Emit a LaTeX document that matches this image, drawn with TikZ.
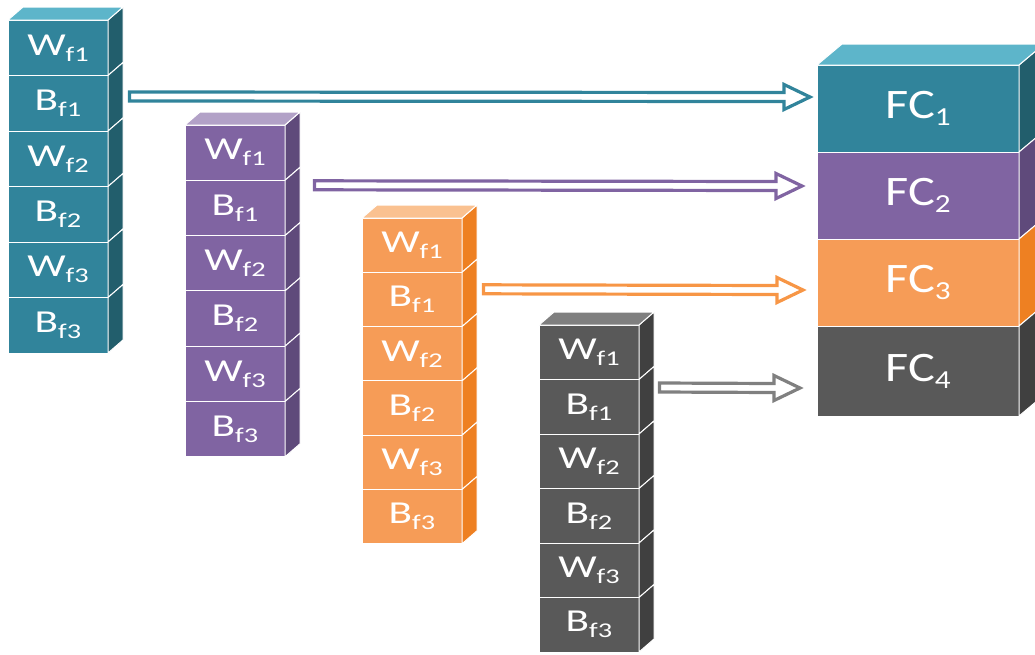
\documentclass[tikz,border=0pt]{standalone}
\usepackage{fontspec}
\setmainfont{Carlito}
\usetikzlibrary{calc}
\definecolor{tealF}{HTML}{31849B}
\definecolor{tealS}{HTML}{225E6C}
\definecolor{tealT}{HTML}{5DB5CA}
\definecolor{purF}{HTML}{8064A2}
\definecolor{purS}{HTML}{5F4A7B}
\definecolor{purT}{HTML}{B2A1C7}
\definecolor{oraF}{HTML}{F69C57}
\definecolor{oraS}{HTML}{EE8022}
\definecolor{oraT}{HTML}{FAC190}
\definecolor{oraA}{HTML}{F79646}
\definecolor{grF}{HTML}{595959}
\definecolor{grS}{HTML}{404040}
\definecolor{grT}{HTML}{7F7F7F}
\definecolor{grA}{HTML}{808080}
\newcommand\lab[2]{\scalebox{1.35}[1]{{\fontsize{32}{32}\selectfont #1}{\fontsize{21}{21}\selectfont\raisebox{-6pt}{#2}}}}
\newcommand\fclab[1]{\scalebox{1.2}[1]{{\fontsize{42}{42}\selectfont FC}{\fontsize{26}{26}\selectfont\raisebox{-7pt}{#1}}}}
\tikzset{
  cell/.style={draw=white, line width=1pt, inner sep=0pt, outer sep=0pt, minimum width=100pt, text=white},
  fccell/.style={draw=white, line width=1pt, inner sep=0pt, outer sep=0pt, minimum width=202pt, minimum height=87pt, text=white, anchor=north west},
  sideface/.style={draw=white, line width=1pt},
  harrow/.style={line width=3.2pt, line join=miter}
}
\newcommand\drawstack[7]{%
  \foreach \i/\l/\s in {1/W/f1,2/B/f1,3/W/f2,4/B/f2,5/W/f3,6/B/f3}{
    \node[cell, fill=#5, minimum height=#4pt, anchor=north west] (#1\i) at (#2, {#3+(\i-1)*#4}) {\lab{\l}{\s}};
    \filldraw[sideface, fill=#6] (#1\i.north east) -- ++(15,-13) -- ++(0,#4) -- (#1\i.south east) -- cycle;
  }
  \filldraw[sideface, fill=#7] (#11.north west) -- ++(15,-13) -- ++(100,0) -- (#11.north east) -- cycle;
}
\newcommand\hollowarrow[3]{%
  \draw[harrow, #1] ($(#2)+(0,-4.5)$) -- ($(#3)+(-26,-4.5)$) -- ($(#3)+(-26,-12.5)$) -- (#3)
    -- ($(#3)+(-26,12.5)$) -- ($(#3)+(-26,4.5)$) -- ($(#2)+(0,4.5)$) -- cycle;
}
\begin{document}
\begin{tikzpicture}[x=1pt, y=-1pt]
\useasboundingbox (0,0) rectangle (1035,654);
\clip (0,0) rectangle (1035,654);
% stacks
\drawstack{t}{8}{20}{55.5}{tealF}{tealS}{tealT}
\drawstack{p}{185}{125}{55.3}{purF}{purS}{purT}
\drawstack{o}{362}{218}{54.3}{oraF}{oraS}{oraT}
\drawstack{g}{539}{325}{54.5}{grF}{grS}{grT}
% FC block
\node[fccell, fill=tealF] (fc1) at (817,65) {\fclab{1}};
\node[fccell, fill=purF] (fc2) at (817,152) {\fclab{2}};
\node[fccell, fill=oraF] (fc3) at (817,239) {\fclab{3}};
\node[fccell, fill=grF, minimum height=90pt] (fc4) at (817,326) {\fclab{4}};
\filldraw[sideface, fill=tealS] (fc1.north east) -- ++(25,-21) -- ++(0,87) -- (fc1.south east) -- cycle;
\filldraw[sideface, fill=purS] (fc2.north east) -- ++(25,-21) -- ++(0,87) -- (fc2.south east) -- cycle;
\filldraw[sideface, fill=oraS] (fc3.north east) -- ++(25,-21) -- ++(0,87) -- (fc3.south east) -- cycle;
\filldraw[sideface, fill=grS] (fc4.north east) -- ++(25,-21) -- ++(0,90) -- (fc4.south east) -- cycle;
\filldraw[sideface, fill=tealT] (fc1.north west) -- ++(25,-21) -- ++(202,0) -- (fc1.north east) -- cycle;
% arrow end points
\coordinate (as1) at ($(t2.north east)+(21.5,21)$);
\coordinate (ae1) at ($(fc1.north west)+(-7,32)$);
\coordinate (as2) at ($(p2.north east)+(29.5,5)$);
\coordinate (ae2) at ($(fc2.north west)+(-15,34)$);
\coordinate (as3) at ($(o2.north east)+(21.5,17)$);
\coordinate (ae3) at ($(fc3.north west)+(-14,51)$);
\coordinate (as4) at ($(g2.north east)+(20.5,8)$);
\coordinate (ae4) at ($(fc4.north west)+(-17,62)$);
\hollowarrow{tealF}{as1}{ae1}
\hollowarrow{purF}{as2}{ae2}
\hollowarrow{oraA}{as3}{ae3}
\hollowarrow{grA}{as4}{ae4}
\end{tikzpicture}
\end{document}
